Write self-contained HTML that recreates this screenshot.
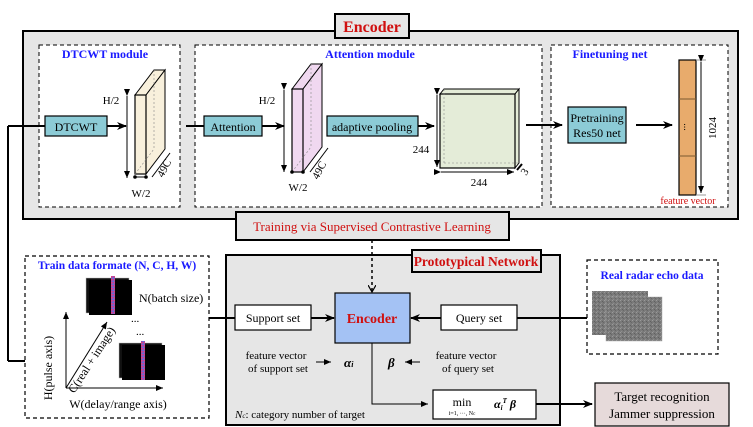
<!DOCTYPE html>
<html><head><meta charset="utf-8"><style>
html,body{margin:0;padding:0;background:#fff}
svg{display:block}
text{font-family:"Liberation Serif",serif}
</style></head><body>
<svg width="753" height="427" viewBox="0 0 753 427" xmlns="http://www.w3.org/2000/svg">
<defs>
<marker id="ah" markerWidth="10" markerHeight="8" refX="9" refY="4" orient="auto" markerUnits="userSpaceOnUse"><path d="M0,0 L10,4 L0,8 L3,4 Z" fill="#000"/></marker>
<marker id="as" markerWidth="7" markerHeight="6" refX="7" refY="3" orient="auto" markerUnits="userSpaceOnUse"><path d="M0,0 L7,3 L0,6 Z" fill="#000"/></marker>
<marker id="ao" markerWidth="8" markerHeight="8" refX="7" refY="4" orient="auto" markerUnits="userSpaceOnUse"><path d="M0,0 L7,4 L0,8" fill="none" stroke="#000" stroke-width="1.2"/></marker>
<pattern id="noise" width="4" height="4" patternUnits="userSpaceOnUse"><rect width="4" height="4" fill="#7a7a7a"/><rect x="0" y="0" width="1" height="1" fill="#9a9a9a"/><rect x="2" y="1" width="1" height="1" fill="#606060"/><rect x="1" y="3" width="1" height="1" fill="#8e8e8e"/><rect x="3" y="2" width="1" height="1" fill="#686868"/></pattern>
<pattern id="strip" width="3" height="3" patternUnits="userSpaceOnUse"><rect width="3" height="3" fill="#9a4fb0"/><rect x="0" y="0" width="1.5" height="1.5" fill="#e04080"/><rect x="1.5" y="1.5" width="1.5" height="1.5" fill="#6070e0"/></pattern>
</defs>

<rect x="23" y="31" width="715" height="188" fill="#e6e6e6" stroke="#000" stroke-width="2"/>
<rect x="335" y="14" width="74" height="24" fill="#e6e6e6" stroke="#000" stroke-width="2"/>
<text x="372" y="32" font-size="16" font-weight="bold" fill="#d01010" text-anchor="middle">Encoder</text>

<rect x="39" y="45" width="141" height="162" fill="#fff" stroke="#000" stroke-dasharray="4,3"/>
<rect x="195" y="45" width="347" height="162" fill="#fff" stroke="#000" stroke-dasharray="4,3"/>
<rect x="551" y="45" width="177" height="162" fill="#fff" stroke="#000" stroke-dasharray="4,3"/>
<text x="105" y="58" font-size="12" font-weight="bold" fill="#1a1aff" text-anchor="middle">DTCWT module</text>
<text x="370" y="58" font-size="12" font-weight="bold" fill="#1a1aff" text-anchor="middle">Attention module</text>
<text x="610" y="58" font-size="12" font-weight="bold" fill="#1a1aff" text-anchor="middle">Finetuning net</text>

<line x1="8" y1="126" x2="45" y2="126" stroke="#000" stroke-width="2"/>
<line x1="8" y1="126" x2="8" y2="361" stroke="#000" stroke-width="2"/>
<line x1="8" y1="361" x2="25" y2="361" stroke="#000" stroke-width="2"/>
<rect x="45" y="116" width="62" height="20" fill="#8ccbd6" stroke="#000" stroke-width="1.2"/>
<text x="76" y="131" font-size="12" text-anchor="middle">DTCWT</text>
<line x1="107" y1="126" x2="126" y2="126" stroke="#000" stroke-width="2" marker-end="url(#ah)"/>
<polygon points="135,95 154,70 165,70 146,95" fill="#f8f0dc" stroke="#000"/>
<polygon points="146,95 165,70 165,149 146,174" fill="#f8f0dc" stroke="#000"/>
<rect x="135" y="95" width="11" height="79" fill="#f8f0dc" stroke="#000" stroke-width="1.2"/>
<line x1="154" y1="70" x2="154" y2="149" stroke="#888" stroke-dasharray="2,2" stroke-width="0.6"/>
<line x1="135" y1="174" x2="154" y2="149" stroke="#888" stroke-dasharray="2,2" stroke-width="0.6"/>
<line x1="127" y1="96" x2="127" y2="178" stroke="#000" marker-start="url(#as)" marker-end="url(#as)"/>
<text x="111" y="104" font-size="11" text-anchor="middle">H/2</text>
<line x1="135" y1="177" x2="146" y2="177" stroke="#000"/><circle cx="135" cy="177" r="1.8"/><circle cx="146" cy="177" r="1.8"/>
<text x="141" y="197" font-size="11" text-anchor="middle">W/2</text>
<line x1="152" y1="177" x2="170" y2="153" stroke="#000"/>
<text x="163" y="178" font-size="11" transform="rotate(-62 163 178)">49C</text>

<line x1="186" y1="126" x2="204" y2="126" stroke="#000" stroke-width="2"/>
<rect x="204" y="116" width="58" height="20" fill="#8ccbd6" stroke="#000" stroke-width="1.2"/>
<text x="233" y="131" font-size="12" text-anchor="middle">Attention</text>
<line x1="262" y1="126" x2="284" y2="126" stroke="#000" stroke-width="2" marker-end="url(#ah)"/>
<polygon points="292,89 311,64 322,64 303,89" fill="#f0d8f0" stroke="#000"/>
<polygon points="303,89 322,64 322,147 303,172" fill="#f0d8f0" stroke="#000"/>
<rect x="292" y="89" width="11" height="83" fill="#f0d8f0" stroke="#000" stroke-width="1.2"/>
<line x1="311" y1="64" x2="311" y2="147" stroke="#888" stroke-dasharray="2,2" stroke-width="0.6"/>
<line x1="292" y1="172" x2="311" y2="147" stroke="#888" stroke-dasharray="2,2" stroke-width="0.6"/>
<line x1="284" y1="90" x2="284" y2="172" stroke="#000" marker-start="url(#as)" marker-end="url(#as)"/>
<text x="267" y="104" font-size="11" text-anchor="middle">H/2</text>
<line x1="292" y1="172" x2="303" y2="172" stroke="#000"/><circle cx="292" cy="172" r="1.8"/><circle cx="303" cy="172" r="1.8"/>
<text x="298" y="191" font-size="11" text-anchor="middle">W/2</text>
<line x1="310" y1="172" x2="328" y2="148" stroke="#000"/>
<text x="318" y="180" font-size="11" transform="rotate(-62 318 180)">49C</text>

<rect x="327" y="116" width="91" height="20" fill="#8ccbd6" stroke="#000" stroke-width="1.2"/>
<text x="372" y="131" font-size="12" text-anchor="middle">adaptive pooling</text>
<line x1="418" y1="126" x2="434" y2="126" stroke="#000" stroke-width="2" marker-end="url(#ah)"/>
<polygon points="440,94 444,89 519,89 515,94" fill="#e4ecd8" stroke="#000"/>
<polygon points="515,94 519,89 519,163 515,168" fill="#e4ecd8" stroke="#000"/>
<rect x="440" y="94" width="75" height="74" fill="#e4ecd8" stroke="#000" stroke-width="1.2"/>
<line x1="444" y1="89" x2="444" y2="163" stroke="#888" stroke-dasharray="2,2" stroke-width="0.6"/>
<line x1="444" y1="163" x2="519" y2="163" stroke="#888" stroke-dasharray="2,2" stroke-width="0.6"/>
<line x1="437" y1="95" x2="437" y2="167" stroke="#000" marker-start="url(#as)" marker-end="url(#as)"/>
<text x="421" y="153" font-size="11" text-anchor="middle">244</text>
<line x1="441" y1="172" x2="514" y2="172" stroke="#000" marker-start="url(#as)" marker-end="url(#as)"/>
<text x="479" y="186" font-size="11" text-anchor="middle">244</text>
<line x1="517" y1="170" x2="522" y2="164" stroke="#000" stroke-width="2"/>
<text x="526" y="176" font-size="11" transform="rotate(-55 526 176)">3</text>

<line x1="526" y1="125" x2="562" y2="125" stroke="#000" stroke-width="2" marker-end="url(#ah)"/>
<rect x="568" y="107" width="58" height="36" fill="#8ccbd6" stroke="#000" stroke-width="1.2"/>
<text x="597" y="122" font-size="12" text-anchor="middle">Pretraining</text>
<text x="597" y="137" font-size="12" text-anchor="middle">Res50 net</text>
<line x1="636" y1="125" x2="672" y2="125" stroke="#000" stroke-width="2" marker-end="url(#ah)"/>
<rect x="679" y="60" width="17" height="135" fill="#e8ab6c" stroke="#000" stroke-width="1.2"/>
<line x1="679" y1="99" x2="696" y2="99" stroke="#7a5a30"/>
<line x1="679" y1="156" x2="696" y2="156" stroke="#7a5a30"/>
<text x="687" y="130" font-size="10" text-anchor="middle" transform="rotate(90 687 127)">...</text>
<line x1="696" y1="60" x2="706" y2="60" stroke="#999"/><line x1="696" y1="195" x2="706" y2="195" stroke="#999"/>
<line x1="701" y1="62" x2="701" y2="193" stroke="#000" marker-start="url(#as)" marker-end="url(#as)"/>
<text x="716" y="128" font-size="11" text-anchor="middle" transform="rotate(-90 716 128)">1024</text>
<text x="688" y="204" font-size="10" fill="#d01010" text-anchor="middle">feature vector</text>

<rect x="236" y="212" width="273" height="28" fill="#e6e6e6" stroke="#000" stroke-width="2"/>
<text x="372" y="231" font-size="13" fill="#d01010" text-anchor="middle">Training via Supervised Contrastive Learning</text>

<rect x="25" y="256" width="184" height="162" fill="#fff" stroke="#000" stroke-dasharray="4,3" stroke-width="1.2"/>
<text x="117" y="269" font-size="11.5" font-weight="bold" fill="#1a1aff" text-anchor="middle">Train data formate (N, C, H, W)</text>
<rect x="86" y="278" width="43" height="35" fill="#111" stroke="#bbb" stroke-width="0.5"/>
<rect x="89" y="280" width="43" height="35" fill="#000"/>
<rect x="111" y="276" width="4" height="38" fill="url(#strip)"/>
<rect x="119" y="343" width="43" height="35" fill="#111" stroke="#bbb" stroke-width="0.5"/>
<rect x="122" y="345" width="43" height="35" fill="#000"/>
<rect x="141" y="341" width="4" height="39" fill="url(#strip)"/>
<text x="139" y="302" font-size="12">N(batch size)</text>
<text x="131" y="322" font-size="11">...</text>
<text x="136" y="335" font-size="11">...</text>
<line x1="66" y1="388" x2="66" y2="312" stroke="#000" marker-end="url(#as)"/>
<line x1="66" y1="388" x2="163" y2="388" stroke="#000" marker-end="url(#as)"/>
<line x1="66" y1="388" x2="107" y2="322" stroke="#000" marker-end="url(#as)"/>
<text x="52" y="368" font-size="12" text-anchor="middle" transform="rotate(-90 52 368)">H(pulse axis)</text>
<text x="95" y="362" font-size="12" text-anchor="middle" transform="rotate(-57 95 362)">C(real + image)</text>
<text x="118" y="408" font-size="12" text-anchor="middle">W(delay/range axis)</text>

<rect x="226" y="255" width="334" height="170" fill="#e6e6e6" stroke="#000" stroke-width="2"/>
<rect x="412" y="250" width="129" height="22" fill="#e6e6e6" stroke="#000" stroke-width="2"/>
<text x="476" y="266" font-size="13.5" font-weight="bold" fill="#d01010" text-anchor="middle">Prototypical Network</text>
<line x1="372" y1="240" x2="372" y2="292" stroke="#000" stroke-width="1.5" stroke-dasharray="3,3" marker-end="url(#ao)"/>
<line x1="209" y1="318" x2="235" y2="318" stroke="#000" stroke-width="2"/>
<rect x="235" y="305" width="76" height="25" fill="#fff" stroke="#000" stroke-width="1.2"/>
<text x="273" y="322" font-size="12" text-anchor="middle">Support set</text>
<line x1="311" y1="318" x2="334" y2="318" stroke="#000" stroke-width="2" marker-end="url(#ah)"/>
<rect x="335" y="293" width="75" height="50" fill="#a4c2f4" stroke="#000" stroke-width="1.2"/>
<text x="372" y="323" font-size="14" font-weight="bold" fill="#d01010" text-anchor="middle">Encoder</text>
<line x1="587" y1="318" x2="517" y2="318" stroke="#000" stroke-width="2"/>
<rect x="441" y="305" width="76" height="25" fill="#fff" stroke="#000" stroke-width="1.2"/>
<text x="479" y="322" font-size="12" text-anchor="middle">Query set</text>
<line x1="441" y1="318" x2="411" y2="318" stroke="#000" stroke-width="2" marker-end="url(#ah)"/>
<text x="276" y="359" font-size="11" text-anchor="middle">feature vector</text>
<text x="278" y="372" font-size="11" text-anchor="middle">of support set</text>
<line x1="316" y1="362" x2="331" y2="362" stroke="#000" marker-end="url(#as)"/>
<text x="344" y="367" font-size="13" font-weight="bold" font-style="italic">α<tspan font-size="8">i</tspan></text>
<text x="388" y="367" font-size="13" font-weight="bold" font-style="italic">β</text>
<line x1="420" y1="362" x2="405" y2="362" stroke="#000" marker-end="url(#as)"/>
<text x="466" y="359" font-size="11" text-anchor="middle">feature vector</text>
<text x="468" y="372" font-size="11" text-anchor="middle">of query set</text>
<polyline points="372,343 372,404 428,404" fill="none" stroke="#000" marker-end="url(#as)"/>
<text x="235" y="418" font-size="11"><tspan font-style="italic">N<tspan font-size="7">c</tspan></tspan>: category number of target</text>
<rect x="433" y="390" width="103" height="29" fill="#fff" stroke="#000" stroke-width="1.2"/>
<text x="462" y="406" font-size="12" text-anchor="middle">min</text>
<text x="462" y="415" font-size="6" text-anchor="middle">i=1, ···, N<tspan font-size="5">c</tspan></text>
<text x="494" y="408" font-size="12" font-weight="bold" font-style="italic">α<tspan font-size="7" dy="2">i</tspan><tspan font-size="7" dy="-7">T</tspan><tspan dy="5"> β</tspan></text>
<line x1="536" y1="404" x2="592" y2="404" stroke="#000" stroke-width="2" marker-end="url(#ah)"/>

<rect x="587" y="260" width="131" height="94" fill="#fff" stroke="#000" stroke-dasharray="4,3" stroke-width="1.2"/>
<text x="652" y="279" font-size="11.5" font-weight="bold" fill="#1a1aff" text-anchor="middle">Real radar echo data</text>
<rect x="592" y="291" width="56" height="44" fill="url(#noise)"/>
<rect x="606" y="297" width="56" height="44" fill="url(#noise)" stroke="#aaa" stroke-width="0.5"/>

<rect x="595" y="383" width="134" height="43" fill="#e6dada" stroke="#000" stroke-width="1.2"/>
<text x="662" y="401" font-size="13" text-anchor="middle">Target recognition</text>
<text x="662" y="418" font-size="13" text-anchor="middle">Jammer suppression</text>
</svg>
</body></html>
